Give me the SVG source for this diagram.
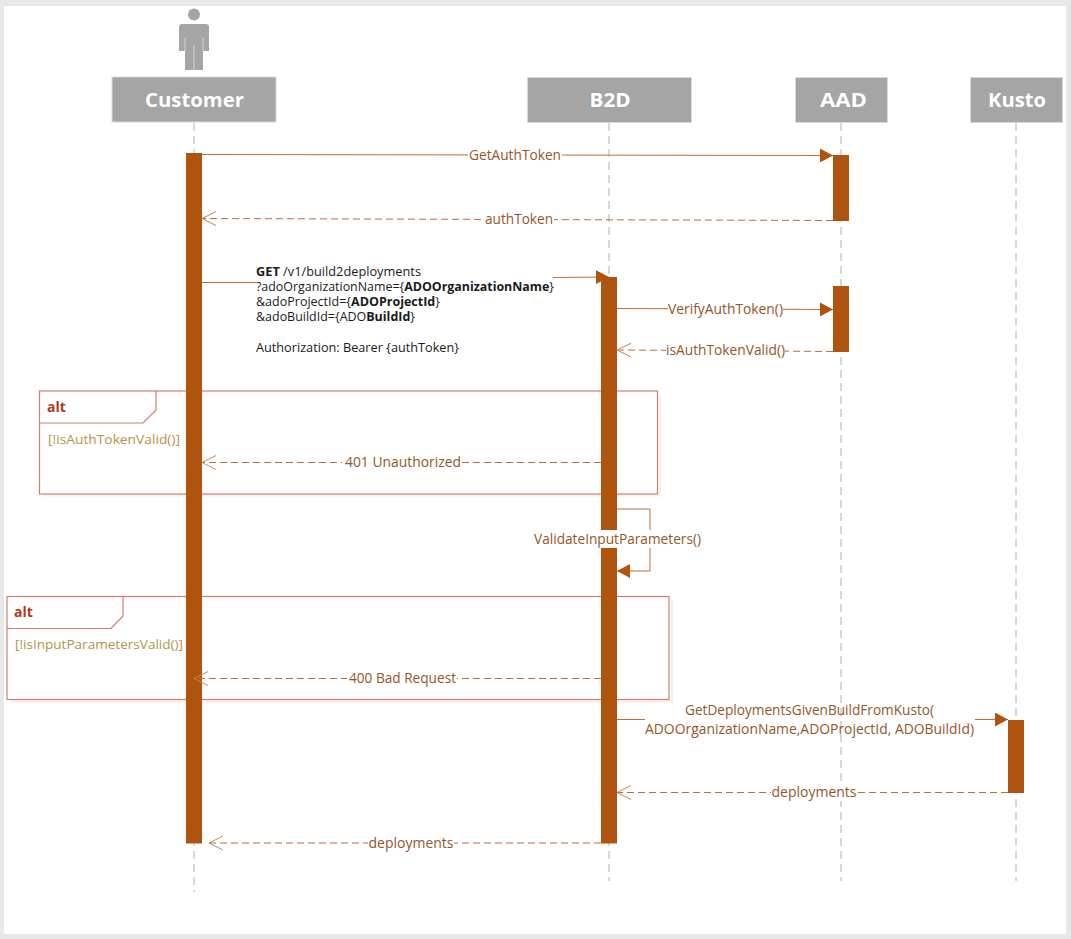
<svg xmlns="http://www.w3.org/2000/svg" width="1071" height="939" viewBox="0 0 1071 939">
<style>
text{font-family:"Open Sans","Noto Sans","Liberation Sans",sans-serif}
.box{fill:#a5a5a5;stroke:#d9d9d9;stroke-width:1}
.name{font-size:20px;font-weight:700;fill:#fff;text-anchor:middle}
.life{stroke:#b0b0b0;stroke-width:1;stroke-dasharray:8 5;fill:none}
.act{fill:#ae540f}
.msg{stroke:#bb7038;stroke-width:1;fill:none}
.ret{stroke:#bb7038;stroke-width:1;fill:none;stroke-dasharray:7 4}
.lbl{font-size:14px;fill:#96552a;text-anchor:middle}
.bg{fill:#fff}
.note{font-size:12px;fill:#1a1a1a}
.frame{fill:none;stroke:#cf7f6c;stroke-width:1.2}
.shadow{fill:none;stroke:#fbeeea;stroke-width:2}
.alt{font-size:14px;font-weight:700;fill:#b03a1c}
.guard{font-size:13px;fill:#b8924a}
</style>
<defs>
<marker id="solid" markerWidth="14" markerHeight="14" refX="13" refY="7" orient="auto" markerUnits="userSpaceOnUse"><path d="M0 0L13 7L0 14Z" fill="#ae540f"/></marker>
<marker id="open" markerWidth="15" markerHeight="16" refX="14" refY="8" orient="auto" markerUnits="userSpaceOnUse"><path d="M0 1L14 8L0 15" fill="none" stroke="#c98a5c" stroke-width="1"/></marker>
</defs>
<rect x="0" y="0" width="1071" height="939" fill="#e8e8e8"/>
<rect x="4" y="6" width="1062" height="928" fill="#fff"/>

<g id="frames">
<g id="alt-auth">
<path class="shadow" d="M43 495.500H660V395"/>
<rect class="frame" x="39.500" y="391" width="618" height="103"/>
<path class="frame" d="M39.500 423H143L156 410V391"/>
<text class="alt" x="47" y="412">alt</text>
<text class="guard" x="48" y="444" textLength="132" lengthAdjust="spacingAndGlyphs">[!isAuthTokenValid()]</text>
</g>
<g id="alt-input">
<path class="shadow" d="M11 701.500H672V601"/>
<rect class="frame" x="7" y="596.500" width="662" height="103"/>
<path class="frame" d="M7 628.500H111L123 616V596.500"/>
<text class="alt" x="14" y="617">alt</text>
<text class="guard" x="15" y="649" textLength="168" lengthAdjust="spacingAndGlyphs">[!isInputParametersValid()]</text>
</g>
</g>

<g id="lifelines">
<path class="life" d="M194 123V892"/>
<path class="life" d="M609 123V881"/>
<path class="life" d="M841 123V881"/>
<path class="life" d="M1016 123V881"/>
</g>

<g id="customer">
<circle cx="194" cy="14.500" r="6" fill="#a5a5a5"/>
<path d="M181 24H207L209 26V51H203V70H185V51H179V26Z" fill="#a5a5a5"/>
<path d="M185 38V51M203 38V51M194 45V70" stroke="#d4d4d4" stroke-width="1" fill="none"/>
<rect class="box" x="112" y="77" width="164" height="45"/>
<text class="name" x="194.500" y="107" textLength="99" lengthAdjust="spacingAndGlyphs">Customer</text>
<rect class="act" x="186" y="153" width="16" height="690.500"/>
</g>
<g id="b2d">
<rect class="box" x="527.500" y="77.500" width="164" height="45"/>
<text class="name" x="610" y="107" textLength="41" lengthAdjust="spacingAndGlyphs">B2D</text>
<rect class="act" x="601" y="277" width="16" height="566.500"/>
</g>
<g id="aad">
<rect class="box" x="795.500" y="77.500" width="92" height="45"/>
<text class="name" x="843.500" y="107" textLength="47" lengthAdjust="spacingAndGlyphs">AAD</text>
<rect class="act" x="833" y="155" width="16" height="66"/>
<rect class="act" x="833" y="286" width="16" height="66"/>
</g>
<g id="kusto">
<rect class="box" x="970.500" y="77.500" width="92" height="45"/>
<text class="name" x="1017" y="107" textLength="58" lengthAdjust="spacingAndGlyphs">Kusto</text>
<rect class="act" x="1008" y="720" width="16" height="73"/>
</g>

<g id="connectors">
<path class="msg" d="M202 154.500L833 155.500" marker-end="url(#solid)"/>
<path class="ret" d="M833 220.500L202 218.500" marker-end="url(#open)"/>
<path class="msg" d="M202 282.500H256"/>
<path class="msg" d="M553 277.500L609 277" marker-end="url(#solid)"/>
<path class="msg" d="M617 308.500L833 309.500" marker-end="url(#solid)"/>
<path class="ret" d="M833 351.500L617 350" marker-end="url(#open)"/>
<path class="ret" d="M601 462.500H202" marker-end="url(#open)"/>
<path class="msg" d="M617 509H650V571H617" marker-end="url(#solid)"/>
<path class="ret" d="M601 678.500H194" marker-end="url(#open)"/>
<path class="msg" d="M617 719.500H645"/>
<path class="msg" d="M975 719.500H1008" marker-end="url(#solid)"/>
<path class="ret" d="M1008 792.500H617" marker-end="url(#open)"/>
<path class="ret" d="M601 843H209" marker-end="url(#open)"/>
</g>

<g id="labels">
<rect class="bg" x="468" y="147" width="94" height="17"/>
<text class="lbl" x="515" y="160" textLength="92" lengthAdjust="spacingAndGlyphs">GetAuthToken</text>
<rect class="bg" x="484" y="211" width="70" height="17"/>
<text class="lbl" x="519" y="224" textLength="68" lengthAdjust="spacingAndGlyphs">authToken</text>
<rect class="bg" x="668" y="301" width="115" height="17"/>
<text class="lbl" x="725.500" y="314" textLength="115" lengthAdjust="spacingAndGlyphs">VerifyAuthToken()</text>
<rect class="bg" x="666" y="342" width="119" height="17"/>
<text class="lbl" x="725.500" y="355" textLength="119" lengthAdjust="spacingAndGlyphs">isAuthTokenValid()</text>
<rect class="bg" x="342" y="454" width="120" height="17"/>
<text class="lbl" x="403" y="467" textLength="116" lengthAdjust="spacingAndGlyphs">401 Unauthorized</text>
<rect x="534" y="530" width="168" height="18" class="bg"/>
<text class="lbl" x="617.500" y="544" textLength="167" lengthAdjust="spacingAndGlyphs">ValidateInputParameters()</text>
<rect class="bg" x="347" y="670" width="110" height="17"/>
<text class="lbl" x="402.500" y="683" textLength="107" lengthAdjust="spacingAndGlyphs">400 Bad Request</text>
<text class="lbl" x="809.500" y="715" textLength="249" lengthAdjust="spacingAndGlyphs">GetDeploymentsGivenBuildFromKusto(</text>
<text class="lbl" x="809.500" y="734" textLength="329" lengthAdjust="spacingAndGlyphs">ADOOrganizationName,ADOProjectId, ADOBuildId)</text>
<rect class="bg" x="771" y="784" width="86" height="17"/>
<text class="lbl" x="814" y="797" textLength="85" lengthAdjust="spacingAndGlyphs">deployments</text>
<rect class="bg" x="368" y="835" width="86" height="17"/>
<text class="lbl" x="411" y="848" textLength="85" lengthAdjust="spacingAndGlyphs">deployments</text>
</g>

<g id="note">
<text class="note" x="256" y="276" textLength="165" lengthAdjust="spacingAndGlyphs"><tspan font-weight="700">GET</tspan> /v1/build2deployments</text>
<text class="note" x="256" y="291" textLength="298" lengthAdjust="spacingAndGlyphs">?adoOrganizationName={<tspan font-weight="700">ADOOrganizationName</tspan>}</text>
<text class="note" x="256" y="306" textLength="184" lengthAdjust="spacingAndGlyphs">&amp;adoProjectId={<tspan font-weight="700">ADOProjectId</tspan>}</text>
<text class="note" x="256" y="321" textLength="159" lengthAdjust="spacingAndGlyphs">&amp;adoBuildId={ADO<tspan font-weight="700">BuildId</tspan>}</text>
<text class="note" x="256" y="352" textLength="203" lengthAdjust="spacingAndGlyphs">Authorization: Bearer {authToken}</text>
</g>
</svg>
